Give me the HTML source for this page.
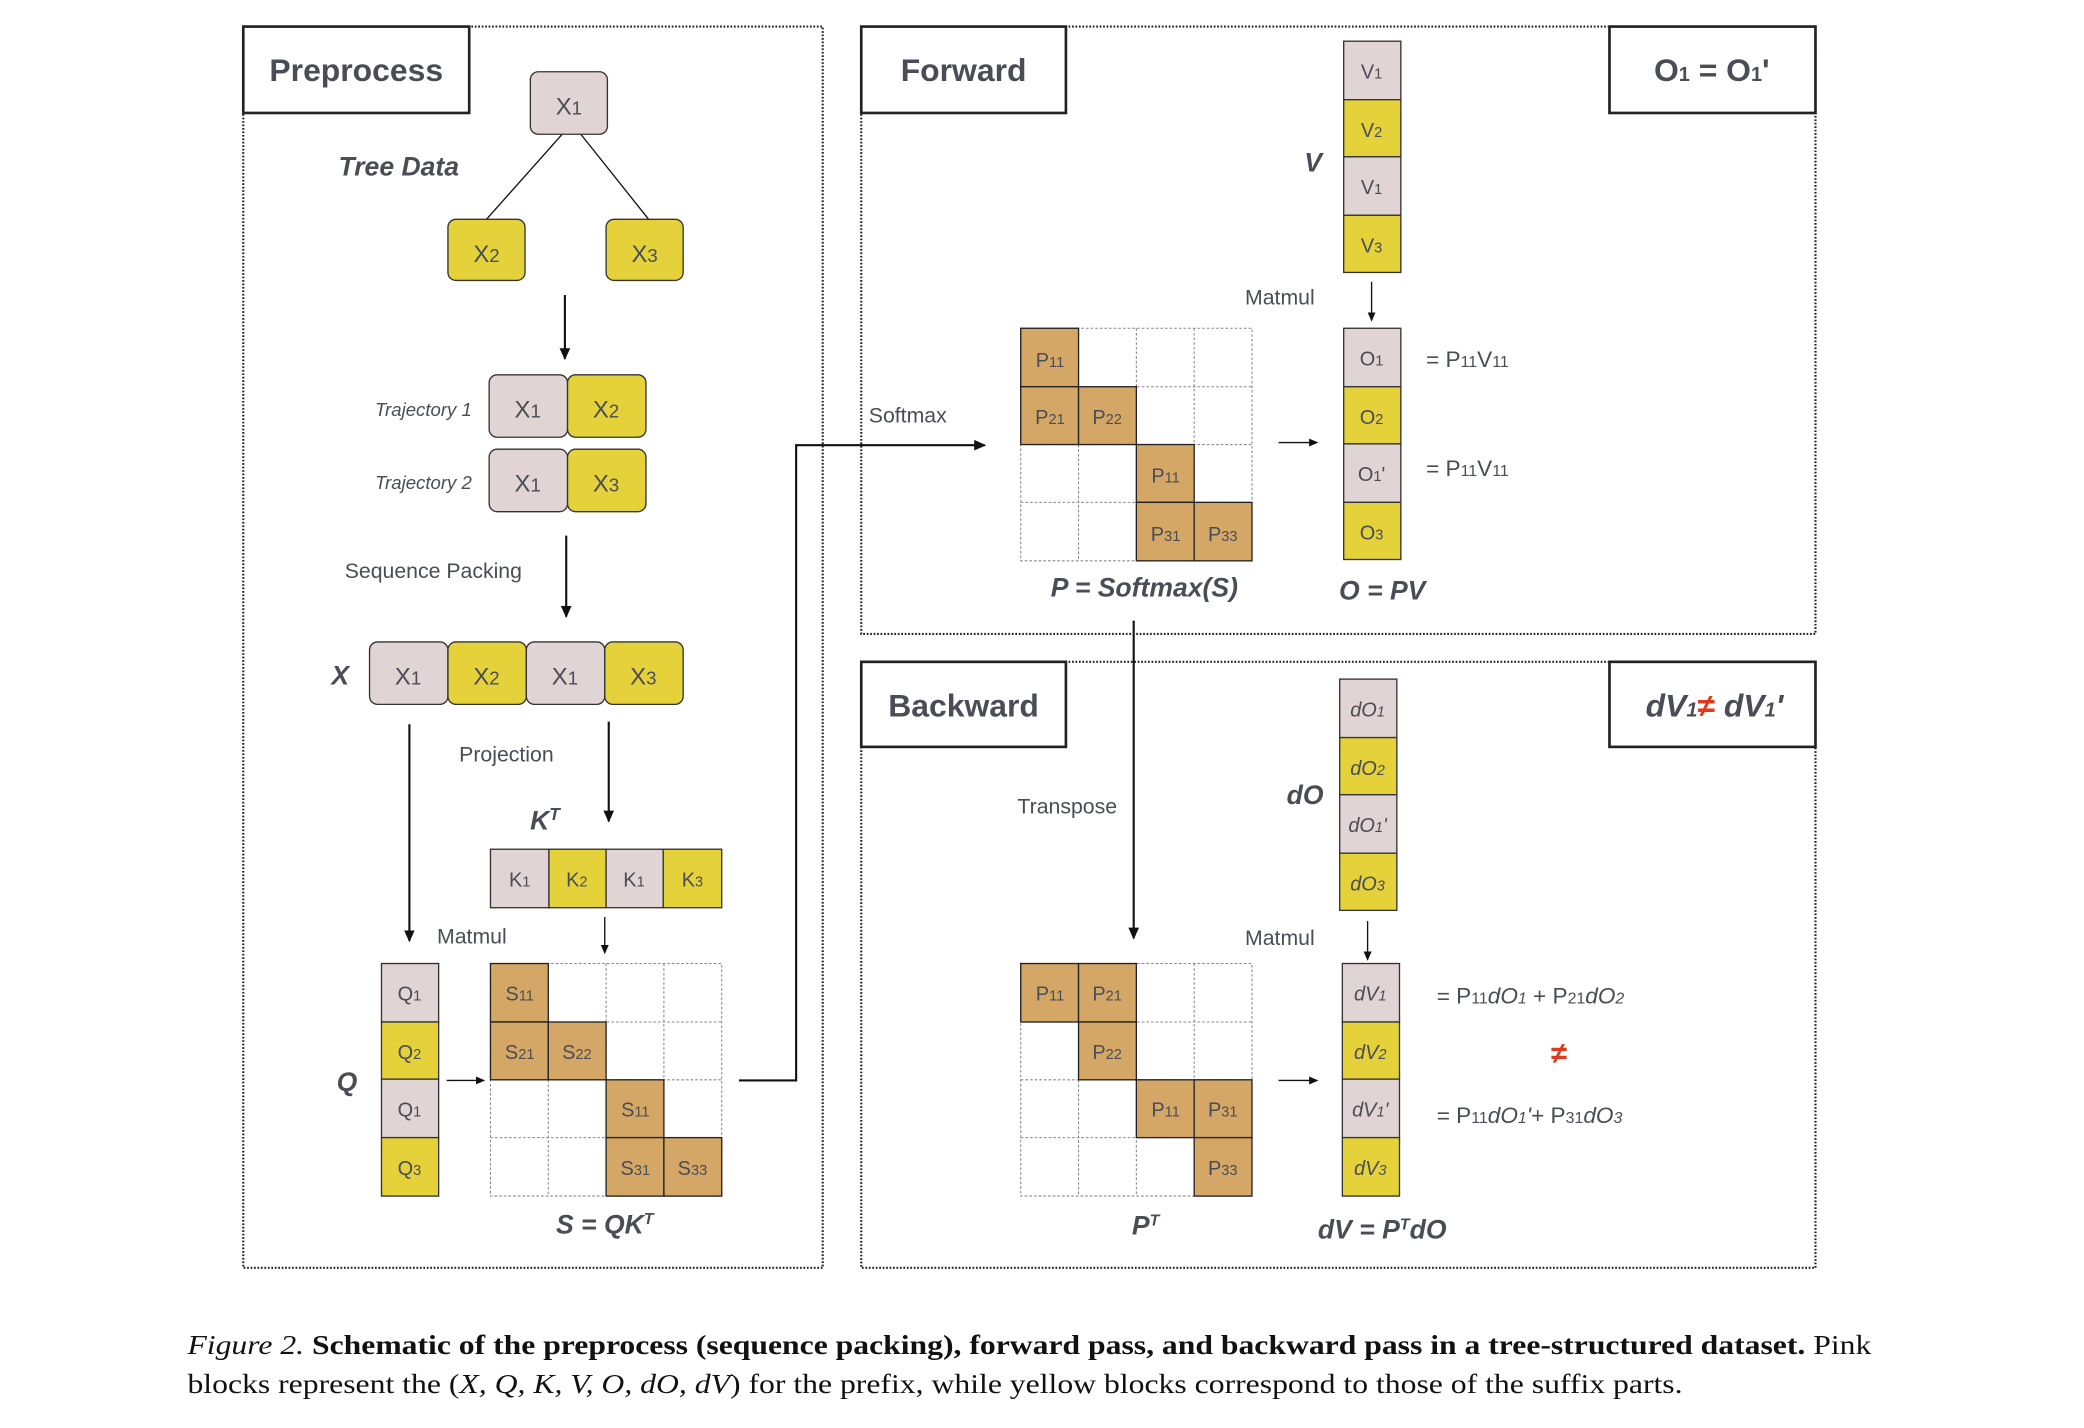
<!DOCTYPE html>
<html><head><meta charset="utf-8"><style>
html,body{margin:0;padding:0;background:#fff;width:2084px;height:1428px;overflow:hidden}
svg{display:block}
text{font-family:"Liberation Sans",Arial,sans-serif;fill:#4a4d55}
.t{font-size:24px;font-weight:bold;text-anchor:middle}
.b{font-size:18px;text-anchor:middle}
.c{font-size:15px;text-anchor:middle}
.lbl{font-size:16px;text-anchor:middle}
.bi{font-size:20px;font-weight:bold;font-style:italic;text-anchor:middle}
.cap{font-family:"Liberation Serif",serif;font-size:21px;fill:#111}
.pk{fill:#e0d4d4;stroke:#333;stroke-width:1}
.yl{fill:#e5d23a;stroke:#333;stroke-width:1}
.tn{fill:#d4a766;stroke:#222;stroke-width:1}
.gd{fill:#fff;stroke:#888;stroke-width:0.8;stroke-dasharray:2 1.5}
.pan{fill:none;stroke:#222;stroke-width:1.6;stroke-dasharray:1.3 1.3}
.tb{fill:#fff;stroke:#222;stroke-width:2}
.ln{stroke:#111;stroke-width:1.6;fill:none}
.ln1{stroke:#111;stroke-width:1;fill:none}
</style></head><body>
<svg width="2084" height="1428" viewBox="0 0 1568 1074.5" xmlns="http://www.w3.org/2000/svg">
<defs>
<marker id="ar" markerWidth="10" markerHeight="10" refX="8" refY="5" orient="auto" markerUnits="userSpaceOnUse"><path d="M0,1 L9,5 L0,9 z" fill="#111"/></marker>
<marker id="as" markerWidth="8" markerHeight="8" refX="6" refY="4" orient="auto" markerUnits="userSpaceOnUse"><path d="M0,1 L7,4 L0,7 z" fill="#111"/></marker>
</defs>

<!-- panels -->
<rect class="pan" x="183" y="20" width="436" height="934"/>
<rect class="pan" x="648" y="20" width="718" height="457"/>
<rect class="pan" x="648" y="498" width="718" height="456"/>
<rect class="tb" x="183" y="20" width="170" height="65"/><text class="t" x="268" y="61">Preprocess</text>
<rect class="tb" x="648" y="20" width="154" height="65"/><text class="t" x="725" y="61">Forward</text>
<rect class="tb" x="1211" y="20" width="155" height="65"/><text class="t" x="1288" y="61">O<tspan font-size="15">1</tspan> = O<tspan font-size="15">1</tspan>'</text>
<rect class="tb" x="648" y="498" width="154" height="64"/><text class="t" x="725" y="539">Backward</text>
<rect class="tb" x="1211" y="498" width="155" height="64"/><text class="t" x="1290" y="539" font-style="italic">dV<tspan font-size="15">1</tspan><tspan fill="#e03a1e" font-style="normal">≠</tspan> dV<tspan font-size="15">1</tspan>'</text>

<!-- tree -->
<line class="ln1" x1="423" y1="101" x2="366" y2="165"/>
<line class="ln1" x1="437" y1="101" x2="488" y2="165"/>
<rect class="pk" x="399" y="54" width="58" height="47" rx="6"/><text class="b" x="428" y="86">X<tspan font-size="14">1</tspan></text>
<rect class="yl" x="337" y="165" width="58" height="46" rx="6"/><text class="b" x="366" y="197">X<tspan font-size="14">2</tspan></text>
<rect class="yl" x="456" y="165" width="58" height="46" rx="6"/><text class="b" x="485" y="197">X<tspan font-size="14">3</tspan></text>
<text class="bi" x="300" y="132" font-size="19">Tree Data</text>
<line class="ln" x1="425" y1="222" x2="425" y2="270" marker-end="url(#ar)"/>

<text x="355" y="313" font-size="14" font-style="italic" text-anchor="end">Trajectory 1</text>
<text x="355" y="368" font-size="14" font-style="italic" text-anchor="end">Trajectory 2</text>
<rect class="pk" x="368" y="282" width="59" height="47" rx="6"/><text class="b" x="397" y="314">X<tspan font-size="14">1</tspan></text>
<rect class="yl" x="427" y="282" width="59" height="47" rx="6"/><text class="b" x="456" y="314">X<tspan font-size="14">2</tspan></text>
<rect class="pk" x="368" y="338" width="59" height="47" rx="6"/><text class="b" x="397" y="370">X<tspan font-size="14">1</tspan></text>
<rect class="yl" x="427" y="338" width="59" height="47" rx="6"/><text class="b" x="456" y="370">X<tspan font-size="14">3</tspan></text>
<text class="lbl" x="326" y="435">Sequence Packing</text>
<line class="ln" x1="426" y1="403" x2="426" y2="464" marker-end="url(#ar)"/>

<text class="bi" x="256" y="515">X</text>
<rect class="pk" x="278" y="483" width="59" height="47" rx="6"/><text class="b" x="307" y="515">X<tspan font-size="14">1</tspan></text>
<rect class="yl" x="337" y="483" width="59" height="47" rx="6"/><text class="b" x="366" y="515">X<tspan font-size="14">2</tspan></text>
<rect class="pk" x="396" y="483" width="59" height="47" rx="6"/><text class="b" x="425" y="515">X<tspan font-size="14">1</tspan></text>
<rect class="yl" x="455" y="483" width="59" height="47" rx="6"/><text class="b" x="484" y="515">X<tspan font-size="14">3</tspan></text>

<line class="ln" x1="308" y1="545" x2="308" y2="708" marker-end="url(#ar)"/>
<line class="ln" x1="458" y1="543" x2="458" y2="618" marker-end="url(#ar)"/>
<text class="lbl" x="381" y="573">Projection</text>
<text class="bi" x="410" y="624">K<tspan font-size="13" dy="-7">T</tspan></text>
<rect class="pk" x="369" y="639" width="44" height="44"/><text class="c" x="391" y="667">K<tspan font-size="11">1</tspan></text>
<rect class="yl" x="413" y="639" width="43" height="44"/><text class="c" x="434" y="667">K<tspan font-size="11">2</tspan></text>
<rect class="pk" x="456" y="639" width="43" height="44"/><text class="c" x="477" y="667">K<tspan font-size="11">1</tspan></text>
<rect class="yl" x="499" y="639" width="44" height="44"/><text class="c" x="521" y="667">K<tspan font-size="11">3</tspan></text>
<line class="ln1" x1="455" y1="690" x2="455" y2="717" marker-end="url(#as)"/>
<text class="lbl" x="355" y="710">Matmul</text>

<text class="bi" x="261" y="821">Q</text>
<rect class="pk" x="287" y="725" width="43" height="44"/><text class="c" x="308" y="753">Q<tspan font-size="11">1</tspan></text>
<rect class="yl" x="287" y="769" width="43" height="43"/><text class="c" x="308" y="797">Q<tspan font-size="11">2</tspan></text>
<rect class="pk" x="287" y="812" width="43" height="44"/><text class="c" x="308" y="840">Q<tspan font-size="11">1</tspan></text>
<rect class="yl" x="287" y="856" width="43" height="44"/><text class="c" x="308" y="884">Q<tspan font-size="11">3</tspan></text>
<line class="ln1" x1="336" y1="813" x2="364" y2="813" marker-end="url(#as)"/>

<!-- S grid -->
<g>
<rect class="gd" x="369" y="725" width="174" height="175"/>
<line class="gd" x1="412.5" y1="725" x2="412.5" y2="900"/><line class="gd" x1="456" y1="725" x2="456" y2="900"/><line class="gd" x1="499.5" y1="725" x2="499.5" y2="900"/>
<line class="gd" x1="369" y1="769" x2="543" y2="769"/><line class="gd" x1="369" y1="812.5" x2="543" y2="812.5"/><line class="gd" x1="369" y1="856" x2="543" y2="856"/>
<rect class="tn" x="369" y="725" width="43.5" height="44"/><text class="c" x="391" y="753">S<tspan font-size="11">11</tspan></text>
<rect class="tn" x="369" y="769" width="43.5" height="43.5"/><text class="c" x="391" y="797">S<tspan font-size="11">21</tspan></text>
<rect class="tn" x="412.5" y="769" width="43.5" height="43.5"/><text class="c" x="434" y="797">S<tspan font-size="11">22</tspan></text>
<rect class="tn" x="456" y="812.5" width="43.5" height="43.5"/><text class="c" x="478" y="840">S<tspan font-size="11">11</tspan></text>
<rect class="tn" x="456" y="856" width="43.5" height="44"/><text class="c" x="478" y="884">S<tspan font-size="11">31</tspan></text>
<rect class="tn" x="499.5" y="856" width="43.5" height="44"/><text class="c" x="521" y="884">S<tspan font-size="11">33</tspan></text>
</g>
<text class="bi" x="455" y="928" font-size="19">S = QK<tspan font-size="12" dy="-7">T</tspan></text>

<polyline class="ln" points="556,813 599,813 599,335 741,335" marker-end="url(#ar)"/>
<text class="lbl" x="683" y="318">Softmax</text>

<!-- Forward -->
<text class="bi" x="988" y="129">V</text>
<rect class="pk" x="1011" y="31" width="43" height="44"/><text class="c" x="1032" y="59">V<tspan font-size="11">1</tspan></text>
<rect class="yl" x="1011" y="75" width="43" height="43"/><text class="c" x="1032" y="103">V<tspan font-size="11">2</tspan></text>
<rect class="pk" x="1011" y="118" width="43" height="44"/><text class="c" x="1032" y="146">V<tspan font-size="11">1</tspan></text>
<rect class="yl" x="1011" y="162" width="43" height="43"/><text class="c" x="1032" y="190">V<tspan font-size="11">3</tspan></text>
<text class="lbl" x="963" y="229">Matmul</text>
<line class="ln1" x1="1032" y1="212" x2="1032" y2="241" marker-end="url(#as)"/>

<g>
<rect class="gd" x="768" y="247" width="174" height="175"/>
<line class="gd" x1="811.5" y1="247" x2="811.5" y2="422"/><line class="gd" x1="855" y1="247" x2="855" y2="422"/><line class="gd" x1="898.5" y1="247" x2="898.5" y2="422"/>
<line class="gd" x1="768" y1="291" x2="942" y2="291"/><line class="gd" x1="768" y1="334.5" x2="942" y2="334.5"/><line class="gd" x1="768" y1="378" x2="942" y2="378"/>
<rect class="tn" x="768" y="247" width="43.5" height="44"/><text class="c" x="790" y="276">P<tspan font-size="11">11</tspan></text>
<rect class="tn" x="768" y="291" width="43.5" height="43.5"/><text class="c" x="790" y="319">P<tspan font-size="11">21</tspan></text>
<rect class="tn" x="811.5" y="291" width="43.5" height="43.5"/><text class="c" x="833" y="319">P<tspan font-size="11">22</tspan></text>
<rect class="tn" x="855" y="334.5" width="43.5" height="43.5"/><text class="c" x="877" y="363">P<tspan font-size="11">11</tspan></text>
<rect class="tn" x="855" y="378" width="43.5" height="44"/><text class="c" x="877" y="407">P<tspan font-size="11">31</tspan></text>
<rect class="tn" x="898.5" y="378" width="43.5" height="44"/><text class="c" x="920" y="407">P<tspan font-size="11">33</tspan></text>
</g>
<text class="bi" x="861" y="449" font-size="19">P = Softmax(S)</text>
<line class="ln1" x1="962" y1="333" x2="991" y2="333" marker-end="url(#as)"/>
<rect class="pk" x="1011" y="247" width="43" height="44"/><text class="c" x="1032" y="275">O<tspan font-size="11">1</tspan></text>
<rect class="yl" x="1011" y="291" width="43" height="43"/><text class="c" x="1032" y="319">O<tspan font-size="11">2</tspan></text>
<rect class="pk" x="1011" y="334" width="43" height="44"/><text class="c" x="1032" y="362">O<tspan font-size="11">1</tspan>'</text>
<rect class="yl" x="1011" y="378" width="43" height="43"/><text class="c" x="1032" y="406">O<tspan font-size="11">3</tspan></text>
<text x="1073" y="276" font-size="17">= P<tspan font-size="12">11</tspan>V<tspan font-size="12">11</tspan></text>
<text x="1073" y="358" font-size="17">= P<tspan font-size="12">11</tspan>V<tspan font-size="12">11</tspan></text>
<text class="bi" x="1040" y="451" font-size="19">O = PV</text>

<line class="ln" x1="853" y1="467" x2="853" y2="706" marker-end="url(#ar)"/>
<text class="lbl" x="803" y="612">Transpose</text>

<!-- Backward -->
<text class="bi" x="982" y="605">dO</text>
<g font-style="italic">
<rect class="pk" x="1008" y="511" width="43" height="44"/><text class="c" x="1029" y="539">dO<tspan font-size="11">1</tspan></text>
<rect class="yl" x="1008" y="555" width="43" height="43"/><text class="c" x="1029" y="583">dO<tspan font-size="11">2</tspan></text>
<rect class="pk" x="1008" y="598" width="43" height="44"/><text class="c" x="1029" y="626">dO<tspan font-size="11">1</tspan>'</text>
<rect class="yl" x="1008" y="642" width="43" height="43"/><text class="c" x="1029" y="670">dO<tspan font-size="11">3</tspan></text>
</g>
<text class="lbl" x="963" y="711">Matmul</text>
<line class="ln1" x1="1029" y1="693" x2="1029" y2="722" marker-end="url(#as)"/>

<g>
<rect class="gd" x="768" y="725" width="174" height="175"/>
<line class="gd" x1="811.5" y1="725" x2="811.5" y2="900"/><line class="gd" x1="855" y1="725" x2="855" y2="900"/><line class="gd" x1="898.5" y1="725" x2="898.5" y2="900"/>
<line class="gd" x1="768" y1="769" x2="942" y2="769"/><line class="gd" x1="768" y1="812.5" x2="942" y2="812.5"/><line class="gd" x1="768" y1="856" x2="942" y2="856"/>
<rect class="tn" x="768" y="725" width="43.5" height="44"/><text class="c" x="790" y="753">P<tspan font-size="11">11</tspan></text>
<rect class="tn" x="811.5" y="725" width="43.5" height="44"/><text class="c" x="833" y="753">P<tspan font-size="11">21</tspan></text>
<rect class="tn" x="811.5" y="769" width="43.5" height="43.5"/><text class="c" x="833" y="797">P<tspan font-size="11">22</tspan></text>
<rect class="tn" x="855" y="812.5" width="43.5" height="43.5"/><text class="c" x="877" y="840">P<tspan font-size="11">11</tspan></text>
<rect class="tn" x="898.5" y="812.5" width="43.5" height="43.5"/><text class="c" x="920" y="840">P<tspan font-size="11">31</tspan></text>
<rect class="tn" x="898.5" y="856" width="43.5" height="44"/><text class="c" x="920" y="884">P<tspan font-size="11">33</tspan></text>
</g>
<text class="bi" x="862" y="929" font-size="19">P<tspan font-size="12" dy="-7">T</tspan></text>
<line class="ln1" x1="962" y1="813" x2="991" y2="813" marker-end="url(#as)"/>
<g font-style="italic">
<rect class="pk" x="1010" y="725" width="43" height="44"/><text class="c" x="1031" y="753">dV<tspan font-size="11">1</tspan></text>
<rect class="yl" x="1010" y="769" width="43" height="43"/><text class="c" x="1031" y="797">dV<tspan font-size="11">2</tspan></text>
<rect class="pk" x="1010" y="812" width="43" height="44"/><text class="c" x="1031" y="840">dV<tspan font-size="11">1</tspan>'</text>
<rect class="yl" x="1010" y="856" width="43" height="44"/><text class="c" x="1031" y="884">dV<tspan font-size="11">3</tspan></text>
</g>
<text x="1081" y="755" font-size="17">= P<tspan font-size="12">11</tspan><tspan font-style="italic">dO<tspan font-size="12">1</tspan></tspan> + P<tspan font-size="12">21</tspan><tspan font-style="italic">dO<tspan font-size="12">2</tspan></tspan></text>
<text x="1173" y="800" font-size="22" font-weight="bold" text-anchor="middle" style="fill:#e03a1e">≠</text>
<text x="1081" y="845" font-size="17">= P<tspan font-size="12">11</tspan><tspan font-style="italic">dO<tspan font-size="12">1</tspan>'</tspan>+ P<tspan font-size="12">31</tspan><tspan font-style="italic">dO<tspan font-size="12">3</tspan></tspan></text>
<text class="bi" x="1040" y="932" font-size="19">dV = P<tspan font-size="12" dy="-7">T</tspan><tspan dy="7">dO</tspan></text>

<!-- caption -->
<text class="cap" x="141" y="1019" textLength="1267" lengthAdjust="spacingAndGlyphs"><tspan font-style="italic">Figure 2.</tspan> <tspan font-weight="bold">Schematic of the preprocess (sequence packing), forward pass, and backward pass in a tree-structured dataset.</tspan> Pink</text>
<text class="cap" x="141" y="1048" textLength="1125" lengthAdjust="spacingAndGlyphs">blocks represent the (<tspan font-style="italic">X, Q, K, V, O, dO, dV</tspan>) for the prefix, while yellow blocks correspond to those of the suffix parts.</text>
</svg>
</body></html>
